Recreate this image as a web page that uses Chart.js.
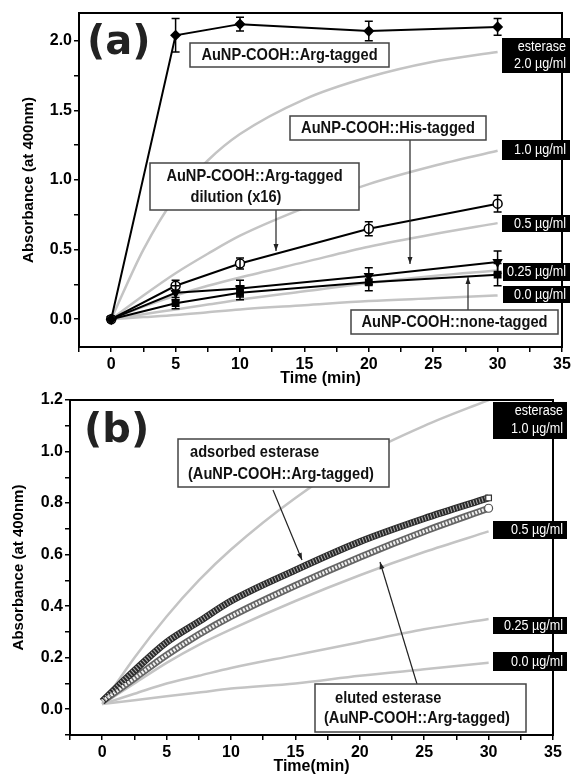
<!DOCTYPE html>
<html>
<head>
<meta charset="utf-8">
<script src="https://cdn.jsdelivr.net/npm/chart.js@4/dist/chart.umd.min.js"></script>
<style>
  body { margin: 0; background: #fff; width: 571px; height: 779px; overflow: hidden; position: relative; }
  canvas { position: absolute; left: 0; }
  #ca { top: 0; }
  #cb { top: 392px; }
</style>
</head>
<body>
<canvas id="ca" width="571" height="392"></canvas>
<canvas id="cb" width="571" height="387"></canvas>
<script>
// --- panel (a): measured points with error bars ---
const timesA = [0, 5, 10, 20, 30];
const argTagged = [0, 2.04, 2.12, 2.07, 2.10];
const argErr = [0, 0.12, 0.05, 0.07, 0.06];
const argDilution = [0, 0.24, 0.40, 0.65, 0.83];
const dilErr = [0, 0.04, 0.04, 0.05, 0.06];
const hisTagged = [0, 0.19, 0.22, 0.31, 0.41];
const hisErr = [0, 0.05, 0.06, 0.06, 0.08];
const noneTagged = [0, 0.115, 0.19, 0.265, 0.32];
const noneErr = [0, 0.04, 0.05, 0.06, 0.08];

// reference esterase curves (grey), panel (a)
const timesRef = [0, 2.5, 5, 7.5, 10, 15, 20, 25, 30];
const refA20 = [0, 0.5, 0.88, 1.14, 1.33, 1.58, 1.74, 1.85, 1.92];
const refA10 = [0, 0.17, 0.33, 0.47, 0.6, 0.8, 0.97, 1.1, 1.21];
const refA05 = [0, 0.09, 0.17, 0.24, 0.3, 0.41, 0.52, 0.61, 0.69];
const refA025 = [0, 0.035, 0.07, 0.105, 0.14, 0.2, 0.26, 0.31, 0.35];
const refA00 = [0, 0.015, 0.03, 0.05, 0.07, 0.1, 0.13, 0.15, 0.17];

// --- panel (b) ---
const refB10 = [0.02, 0.2, 0.36, 0.5, 0.62, 0.82, 0.98, 1.1, 1.2];
const refB05 = [0.02, 0.1, 0.18, 0.25, 0.31, 0.42, 0.52, 0.61, 0.69];
const refB025 = [0.02, 0.06, 0.1, 0.13, 0.16, 0.21, 0.26, 0.31, 0.35];
const refB00 = [0.02, 0.035, 0.05, 0.065, 0.08, 0.1, 0.13, 0.155, 0.18];
const adsorbed = [0.03, 0.15, 0.26, 0.34, 0.42, 0.54, 0.65, 0.74, 0.82];
const eluted = [0.03, 0.12, 0.21, 0.29, 0.36, 0.48, 0.59, 0.69, 0.78];

// ticks
const xTicks = [-2.5, 0, 2.5, 5, 7.5, 10, 12.5, 15, 17.5, 20, 22.5, 25, 27.5, 30, 32.5, 35];
const xLabels = [0, 5, 10, 15, 20, 25, 30, 35];
const yTicksA = [0, 0.25, 0.5, 0.75, 1, 1.25, 1.5, 1.75, 2];
const yLabelsA = [0, 0.5, 1, 1.5, 2];
const yTicksB = [-0.1, 0, 0.1, 0.2, 0.3, 0.4, 0.5, 0.6, 0.7, 0.8, 0.9, 1, 1.1, 1.2];
const yLabelsB = [0, 0.2, 0.4, 0.6, 0.8, 1, 1.2];

Chart.defaults.font.family = '"Liberation Sans", Arial, sans-serif';
Chart.defaults.color = '#000';

const pts = (xs, ys) => xs.map((x, i) => ({ x: x, y: ys[i] }));

function xAxis(title, height, titlePad) {
    return {
        type: 'linear', min: -2.5, max: 35,
        afterBuildTicks: s => { s.ticks = xTicks.map(v => ({ value: v })); },
        afterFit: s => { s.height = height; s.paddingLeft = 0; s.paddingRight = 0; },
        ticks: { autoSkip: false, maxRotation: 0, padding: 3, font: { size: 16, weight: 'bold' },
                 callback: v => xLabels.includes(v) ? String(v) : '' },
        grid: { drawOnChartArea: false, tickLength: 5, color: '#000', lineWidth: 1.5 },
        border: { color: '#000', width: 2 },
        title: { display: true, text: title, font: { size: 16, weight: 'bold' }, padding: { top: 0, bottom: titlePad } }
    };
}

function yAxis(min, max, ticks, labels, width, titlePad) {
    return {
        type: 'linear', min: min, max: max,
        afterBuildTicks: s => { s.ticks = ticks.map(v => ({ value: v })); },
        afterFit: s => { s.width = width; s.paddingTop = 0; s.paddingBottom = 0; },
        ticks: { autoSkip: false, padding: 2, font: { size: 16, weight: 'bold' },
                 callback: v => labels.includes(v) ? v.toFixed(1) : '' },
        grid: { drawOnChartArea: false, tickLength: 5, color: '#000', lineWidth: 1.5 },
        border: { color: '#000', width: 2 },
        title: { display: true, text: 'Absorbance (at 400nm)', font: { size: 15, weight: 'bold' }, padding: { top: titlePad, bottom: 0 } }
    };
}

function greyLine(ys) {
    return { data: pts(timesRef, ys), borderColor: '#c4c4c4', borderWidth: 2.5, pointRadius: 0,
             cubicInterpolationMode: 'monotone', order: 10 };
}

function measured(ys, errs, style, fill, rot) {
    return { data: pts(timesA, ys), errors: errs, borderColor: '#000', borderWidth: 2, tension: 0,
             pointStyle: style, pointRadius: 4.5, pointRotation: rot || 0,
             pointBackgroundColor: fill, pointBorderColor: '#000', pointBorderWidth: 1.5, order: 1 };
}

// error bars, frame, notes
const errorBars = {
    id: 'errorBars',
    afterDatasetsDraw(chart) {
        const ctx = chart.ctx, xs = chart.scales.x, ys = chart.scales.y;
        ctx.save();
        ctx.strokeStyle = '#000';
        ctx.lineWidth = 1.5;
        chart.data.datasets.forEach(ds => {
            if (!ds.errors) return;
            ds.data.forEach((p, i) => {
                const e = ds.errors[i];
                if (!e) return;
                const px = xs.getPixelForValue(p.x);
                const y0 = ys.getPixelForValue(p.y - e), y1 = ys.getPixelForValue(p.y + e);
                ctx.beginPath();
                ctx.moveTo(px, y0); ctx.lineTo(px, y1);
                ctx.moveTo(px - 4, y0); ctx.lineTo(px + 4, y0);
                ctx.moveTo(px - 4, y1); ctx.lineTo(px + 4, y1);
                ctx.stroke();
            });
        });
        ctx.restore();
    }
};

function arrow(ctx, x0, y0, x1, y1) {
    ctx.beginPath();
    ctx.moveTo(x0, y0); ctx.lineTo(x1, y1);
    ctx.stroke();
    const a = Math.atan2(y1 - y0, x1 - x0);
    ctx.beginPath();
    ctx.moveTo(x1, y1);
    ctx.lineTo(x1 - 7 * Math.cos(a) + 2.5 * Math.sin(a), y1 - 7 * Math.sin(a) - 2.5 * Math.cos(a));
    ctx.lineTo(x1 - 7 * Math.cos(a) - 2.5 * Math.sin(a), y1 - 7 * Math.sin(a) + 2.5 * Math.cos(a));
    ctx.closePath();
    ctx.fill();
}

function squeezed(ctx, text, x, y, k) {
    ctx.fillText(text, x, y, ctx.measureText(text).width * k);
}

const notes = {
    id: 'notes',
    afterDraw(chart, args, o) {
        const ctx = chart.ctx, a = chart.chartArea;
        ctx.save();
        ctx.strokeStyle = '#000';
        ctx.lineWidth = 2;
        ctx.strokeRect(a.left, a.top, a.right - a.left, a.bottom - a.top);

        ctx.fillStyle = '#222';
        ctx.font = 'bold 40px "DejaVu Sans"';
        ctx.textBaseline = 'middle';
        ctx.textAlign = 'left';
        ctx.fillText(o.panel[0], o.panel[1], o.panel[2]);

        ctx.strokeStyle = '#222';
        ctx.fillStyle = '#222';
        ctx.lineWidth = 1.2;
        o.links.forEach(l => arrow(ctx, l[0], l[1], l[2], l[3]));

        o.boxes.forEach(b => {
            ctx.fillStyle = '#fff';
            ctx.fillRect(b.x0, b.y0, b.x1 - b.x0, b.y1 - b.y0);
            ctx.strokeStyle = '#444';
            ctx.lineWidth = 1.5;
            ctx.strokeRect(b.x0, b.y0, b.x1 - b.x0, b.y1 - b.y0);
            ctx.fillStyle = '#111';
            ctx.font = 'bold 17px "Liberation Sans"';
            ctx.textAlign = b.align;
            b.text.forEach(t => squeezed(ctx, t[0], t[1], t[2], 0.86));
        });

        o.tags.forEach(t => {
            ctx.fillStyle = '#000';
            ctx.fillRect(t.x0, t.y0, t.x1 - t.x0, t.y1 - t.y0);
            ctx.fillStyle = '#fff';
            ctx.font = '14px "Liberation Sans"';
            ctx.textAlign = 'right';
            t.text.forEach(s => squeezed(ctx, s[0], t.x1 - 4, s[1], 0.9));
        });
        ctx.restore();
    }
};

const common = {
    responsive: false,
    animation: false,
    events: [],
    plugins: { legend: { display: false }, tooltip: { enabled: false } }
};

new Chart(document.getElementById('ca'), {
    type: 'line',
    data: {
        datasets: [
            measured(argTagged, argErr, 'rectRot', '#000'),
            measured(argDilution, dilErr, 'circle', '#fff'),
            measured(hisTagged, hisErr, 'triangle', '#000', 180),
            measured(noneTagged, noneErr, 'rect', '#000'),
            greyLine(refA20), greyLine(refA10), greyLine(refA05), greyLine(refA025), greyLine(refA00)
        ]
    },
    options: Object.assign({}, common, {
        layout: { padding: { left: 0, top: 13, right: 9, bottom: 0 } },
        scales: { x: xAxis('Time (min)', 45, 4), y: yAxis(-0.2, 2.2, yTicksA, yLabelsA, 79, 20) },
        plugins: Object.assign({}, common.plugins, {
            notes: {
                panel: ['(a)', 87, 44],
                links: [[410, 140, 410, 264], [276, 210, 276, 251], [468, 310, 468, 277]],
                boxes: [
                    { x0: 190, y0: 43, x1: 389, y1: 67, align: 'center', text: [['AuNP-COOH::Arg-tagged', 289.5, 55]] },
                    { x0: 290, y0: 116, x1: 486, y1: 140, align: 'center', text: [['AuNP-COOH::His-tagged', 388, 128]] },
                    { x0: 150, y0: 163, x1: 359, y1: 210, align: 'center',
                      text: [['AuNP-COOH::Arg-tagged', 254.5, 176], ['dilution (x16)', 236, 197]] },
                    { x0: 351, y0: 310, x1: 558, y1: 334, align: 'center', text: [['AuNP-COOH::none-tagged', 454.5, 322]] }
                ],
                tags: [
                    { x0: 502, y0: 38, x1: 570, y1: 73, text: [['esterase', 47], ['2.0 µg/ml', 64]] },
                    { x0: 502, y0: 140, x1: 570, y1: 160, text: [['1.0 µg/ml', 150]] },
                    { x0: 502, y0: 215, x1: 570, y1: 232, text: [['0.5 µg/ml', 224]] },
                    { x0: 503, y0: 263, x1: 570, y1: 281, text: [['0.25 µg/ml', 272]] },
                    { x0: 503, y0: 286, x1: 570, y1: 303, text: [['0.0 µg/ml', 295]] }
                ]
            }
        })
    }),
    plugins: [errorBars, notes]
});

new Chart(document.getElementById('cb'), {
    type: 'line',
    data: {
        datasets: [
            greyLine(refB10), greyLine(refB05), greyLine(refB025), greyLine(refB00),
            { data: pts(timesRef, adsorbed), borderColor: '#2a2a2a', borderWidth: 7, pointRadius: 0,
              cubicInterpolationMode: 'monotone', order: 5 },
            { data: pts(timesRef, adsorbed), borderColor: '#b0b0b0', borderWidth: 5, borderDash: [1, 2],
              cubicInterpolationMode: 'monotone', order: 2, pointStyle: 'rect',
              pointRadius: c => c.dataIndex === adsorbed.length - 1 ? 4 : 0,
              pointBackgroundColor: '#fff', pointBorderColor: '#333', pointBorderWidth: 1.2 },
            { data: pts(timesRef, eluted), borderColor: '#666', borderWidth: 7, pointRadius: 0,
              cubicInterpolationMode: 'monotone', order: 5 },
            { data: pts(timesRef, eluted), borderColor: '#f2f2f2', borderWidth: 3.5, borderDash: [2, 1.5],
              cubicInterpolationMode: 'monotone', order: 2, pointStyle: 'circle',
              pointRadius: c => c.dataIndex === eluted.length - 1 ? 4 : 0,
              pointBackgroundColor: '#fff', pointBorderColor: '#555', pointBorderWidth: 1.2 }
        ]
    },
    options: Object.assign({}, common, {
        layout: { padding: { left: 0, top: 8, right: 18, bottom: 0 } },
        scales: { x: xAxis('Time(min)', 44, 3), y: yAxis(-0.1, 1.2, yTicksB, yLabelsB, 70, 10) },
        plugins: Object.assign({}, common.plugins, {
            notes: {
                panel: ['(b)', 84, 40],
                links: [[273, 98, 302, 168], [417, 292, 380, 170]],
                boxes: [
                    { x0: 178, y0: 47, x1: 389, y1: 95, align: 'left',
                      text: [['adsorbed esterase', 190, 60], ['(AuNP-COOH::Arg-tagged)', 188, 82]] },
                    { x0: 315, y0: 292, x1: 526, y1: 340, align: 'left',
                      text: [['eluted esterase', 335, 306], ['(AuNP-COOH::Arg-tagged)', 324, 326]] }
                ],
                tags: [
                    { x0: 493, y0: 10, x1: 567, y1: 47, text: [['esterase', 19], ['1.0 µg/ml', 37]] },
                    { x0: 493, y0: 129, x1: 567, y1: 147, text: [['0.5 µg/ml', 138]] },
                    { x0: 493, y0: 225, x1: 567, y1: 242, text: [['0.25 µg/ml', 234]] },
                    { x0: 493, y0: 260, x1: 567, y1: 279, text: [['0.0 µg/ml', 270]] }
                ]
            }
        })
    }),
    plugins: [notes]
});
</script>
</body>
</html>
